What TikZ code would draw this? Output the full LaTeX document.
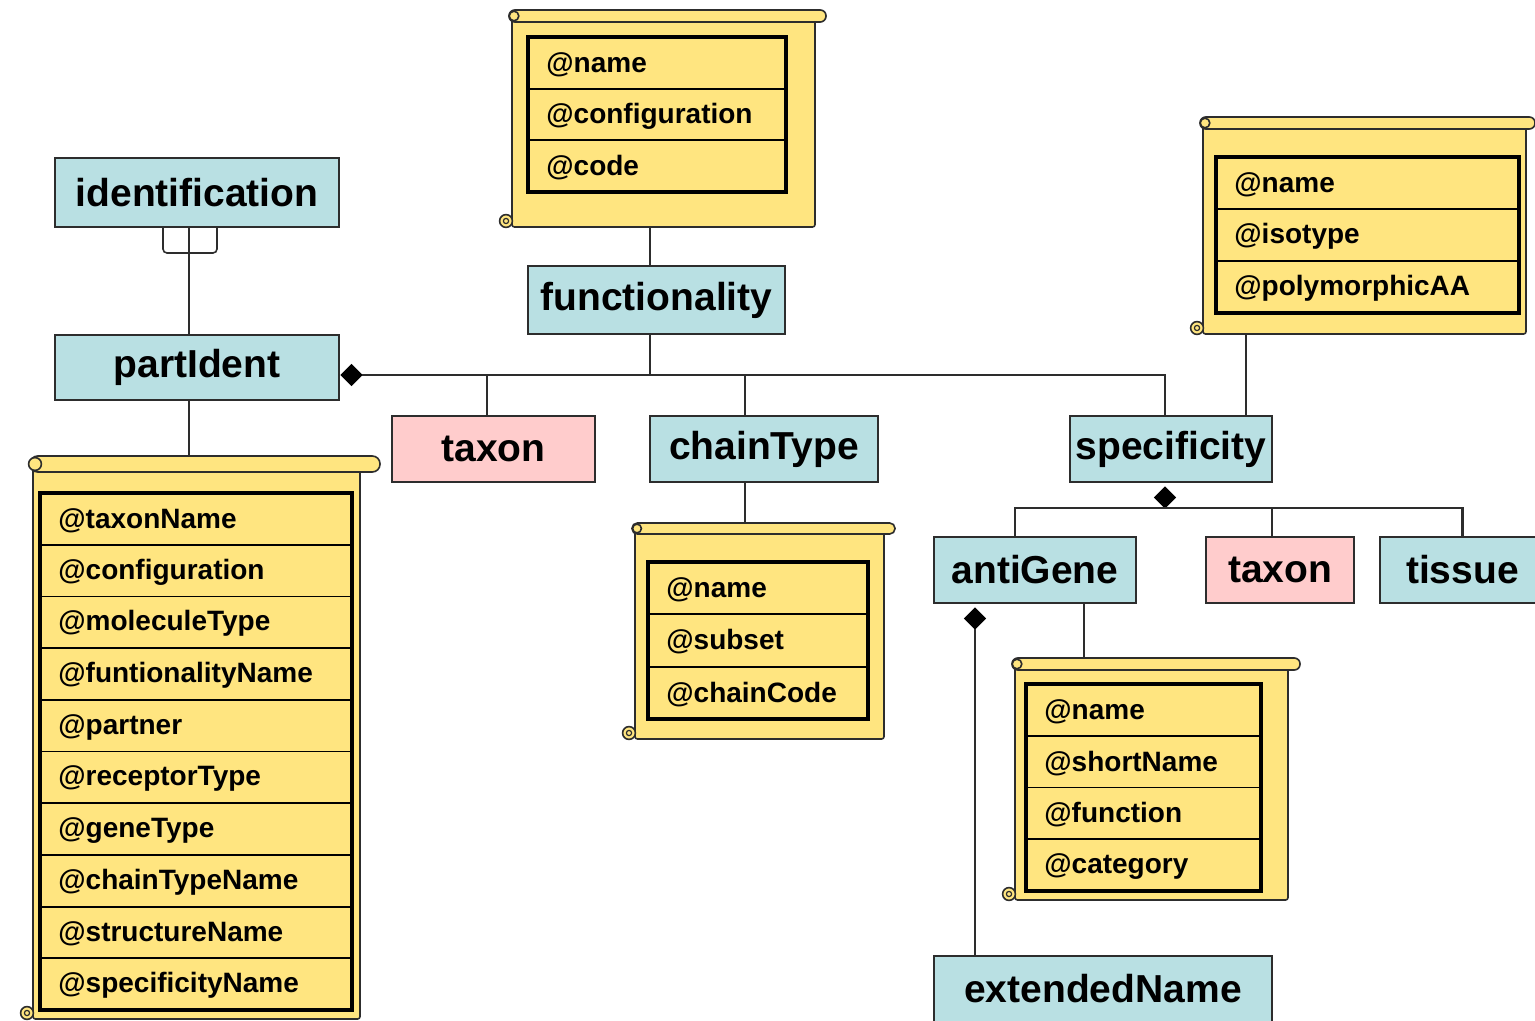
\documentclass[tikz,border=0pt]{standalone}
\usepackage{fontspec}
\setmainfont{Liberation Sans}
\usetikzlibrary{shapes.geometric,calc,fit}

\definecolor{clsblue}{RGB}{185,224,227}
\definecolor{clspink}{RGB}{255,204,204}
\definecolor{scrollyellow}{RGB}{255,229,128}
\definecolor{edge}{RGB}{45,45,45}

\tikzset{
  cls/.style={draw=edge, line width=1pt, fill=clsblue, text=black,
    font=\fontsize{19.5}{24}\selectfont\bfseries, inner sep=0pt, anchor=center},
  refcls/.style={cls, fill=clspink},
  link/.style={draw=edge, line width=1.25pt},
  agg/.style={diamond, fill=black, draw=black, line width=0.4pt, inner sep=0pt,
    outer sep=0pt, minimum width=10.5pt, minimum height=10.5pt},
  scrollline/.style={draw=edge, line width=0.8pt, fill=scrollyellow},
  attrframe/.style={draw=black, line width=2pt},
  attrsep/.style={draw=black, line width=0.9pt},
  attr/.style={font=\fontsize{14}{16}\selectfont\bfseries, anchor=west, inner sep=0pt},
}

% scroll: name, left, top, right, bottom, roll end, roll height (px units)
\newcommand\drawscroll[7]{%
  \path[scrollline, rounded corners=1.2pt] (#2,#3+#7/2) rectangle (#4,#5);
  \path[scrollline] (#2-6,#5-6) circle[radius=3.2pt];
  \draw[edge, line width=0.6pt] (#2-6,#5-6) circle[radius=1.3pt];
  \path[scrollline, rounded corners=#7*0.24pt] (#2-3,#3) rectangle (#6,#3+#7);
  \path[scrollline] (#2+2,#3+#7/2) circle[radius=#7*0.2pt];
  \node[fit={(#2,#3) (#4,#5)}, inner sep=0pt, outer sep=0pt] (#1) {};
}

% attribute table: name, left, top, right, bottom, rows, list of attributes
\newcommand\attrtable[7]{%
  \path[fill=scrollyellow] (#2,#3) rectangle (#4,#5);
  \pgfmathsetmacro\rowh{(#5-#3)/#6}
  \foreach \attrname [count=\i] in {#7}{%
    \pgfmathsetmacro\yc{#3+(\i-0.5)*\rowh+1.5}
    \pgfmathsetmacro\ysep{#3+\i*\rowh}
    \node[attr] (#1-\i) at (#2+18,\yc) {@\attrname};
    \ifnum\i<#6 \draw[attrsep] (#2,\ysep) -- (#4,\ysep);\fi
  }%
  \draw[attrframe] (#2,#3) rectangle (#4,#5);
}

\begin{document}
\begin{tikzpicture}[x=0.5pt, y=-0.5pt]
\useasboundingbox (0,0) rectangle (1535,1021);
\clip (0,0) rectangle (1535,1021);
\fill[white] (0,0) rectangle (1535,1021);

% scrolls with their attribute lists
\drawscroll{funcScroll}{512}{10}{815}{227}{826}{12}
\attrtable{funcAttr}{528}{37}{786}{192}{3}{name,configuration,code}

\drawscroll{pidScroll}{33}{456}{360}{1019}{380}{16}
\attrtable{pidAttr}{40}{493}{352}{1010}{10}{taxonName,configuration,moleculeType,funtionalityName,partner,receptorType,geneType,chainTypeName,structureName,specificityName}

\drawscroll{chainScroll}{635}{523}{884}{739}{895}{11}
\attrtable{chainAttr}{648}{562}{868}{719}{3}{name,subset,chainCode}

\drawscroll{specScroll}{1203}{117}{1526}{334}{1535}{12}
\attrtable{specAttr}{1216}{157}{1519}{313}{3}{name,isotype,polymorphicAA}

\drawscroll{agScroll}{1015}{658}{1288}{900}{1300}{12}
\attrtable{agAttr}{1026}{684}{1261}{891}{4}{name,shortName,function,category}

% classes
\node[cls, minimum width=142pt, minimum height=34.5pt] (identification) at (197,192.5) {\raisebox{-1pt}{identification}};
\node[cls, minimum width=142pt, minimum height=32.5pt] (partIdent) at (197,367.5) {\raisebox{-1pt}{partIdent}};
\node[cls, minimum width=128.5pt, minimum height=34pt] (functionality) at (656.5,300) {\raisebox{-1pt}{functionality}};
\node[refcls, minimum width=101.5pt, minimum height=33pt] (taxonA) at (493.5,449) {\raisebox{-1pt}{taxon}};
\node[cls, minimum width=114pt, minimum height=33pt] (chainType) at (764,449) {\raisebox{-1pt}{chainType}};
\node[cls, minimum width=101pt, minimum height=33pt] (specificity) at (1171,449) {\raisebox{-1pt}{specificity}};
\node[cls, minimum width=101pt, minimum height=33pt] (antiGene) at (1035,570) {\raisebox{-1pt}{antiGene}};
\node[refcls, minimum width=74pt, minimum height=33pt] (taxonB) at (1280,570) {\raisebox{-1pt}{taxon}};
\node[cls, minimum width=82.5pt, minimum height=33pt] (tissue) at (1462.5,570) {\raisebox{-1pt}{tissue}};
\node[cls, minimum width=169pt, minimum height=33pt] (extendedName) at (1103,989) {\raisebox{-1pt}{extendedName}};

% aggregation diamonds
\node[agg, anchor=west] (pidAgg) at ($(partIdent.east)+(1,7.5)$) {};
\node[agg, anchor=north] (specAgg) at ($(specificity.south)+(-6,4)$) {};
\node[agg, anchor=north] (agAgg) at ($(antiGene.south)+(-60,4)$) {};

% identification -> partIdent, with key bracket
\coordinate (idOut) at ($(identification.south)+(-8,0)$);
\coordinate (pidIn) at ($(partIdent.north)+(-8,0)$);
\draw[link] (idOut) -- (pidIn);
\draw[link, line width=0.8pt, rounded corners=2pt]
  ($(identification.south)+(-34,0)$) -- ++(0,25) -- ++(54,0) -- ++(0,-25);

% partIdent -> its attribute scroll
\coordinate (pidOut) at ($(partIdent.south)+(-8,0)$);
\draw[link] (pidOut) -- (pidOut |- pidScroll.north);

% partIdent aggregation bus
\coordinate (specIn) at ($(specificity.north)+(-6,0)$);
\draw[link] (pidAgg.east) -| (specIn);
\coordinate (funcOut) at ($(functionality.south)+(-6.5,0)$);
\draw[link] (funcOut) -- (funcOut |- pidAgg.east);
\coordinate (taxAIn) at ($(taxonA.north)+(-6.5,0)$);
\draw[link] (taxAIn) -- (taxAIn |- pidAgg.east);
\coordinate (chainIn) at ($(chainType.north)+(-19,0)$);
\draw[link] (chainIn) -- (chainIn |- pidAgg.east);

% classes -> attribute scrolls
\coordinate (funcTop) at ($(functionality.north)+(-6.5,0)$);
\draw[link] (funcTop) -- (funcTop |- funcScroll.south);
\coordinate (chainOut) at ($(chainType.south)+(-19,0)$);
\draw[link] (chainOut) -- (chainOut |- chainScroll.north);
\coordinate (specOut) at ($(specificity.north)+(75,0)$);
\draw[link] (specOut) -- (specOut |- specScroll.south);
\coordinate (agOut) at ($(antiGene.south)+(49,0)$);
\draw[link] (agOut) -- (agOut |- agScroll.north);

% specificity aggregation bus
\coordinate (agIn) at ($(antiGene.north)+(-20,0)$);
\draw[link] (agIn) |- (specAgg.south);
\coordinate (taxBIn) at ($(taxonB.north)+(-8,0)$);
\draw[link] (taxBIn) |- (specAgg.south);
\draw[link] (tissue.north) |- (specAgg.south);

% antiGene aggregation
\draw[link] (agAgg.south) -- (agAgg.south |- extendedName.north);
\end{tikzpicture}
\end{document}
